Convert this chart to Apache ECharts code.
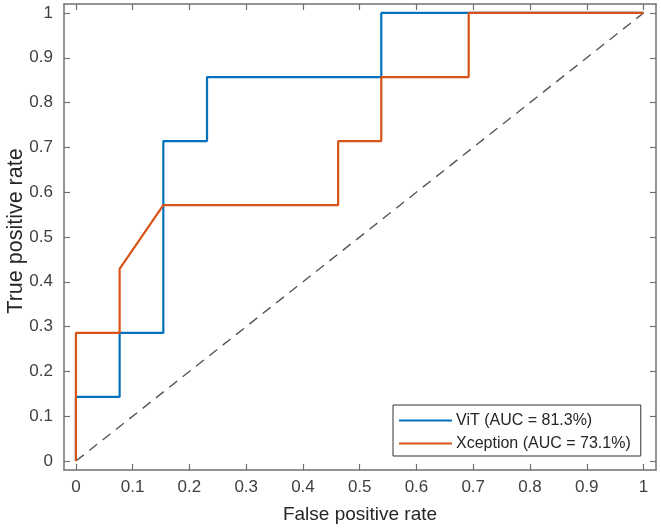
<!DOCTYPE html>
<html>
<head>
<meta charset="utf-8">
<script src="https://cdn.jsdelivr.net/npm/echarts@6/dist/echarts.min.js"></script>
<style>
html,body{margin:0;padding:0;background:#fff;}
#chart{width:661px;height:531px;}
</style>
</head>
<body>
<div id="chart"></div>
<script>
// Data
const tickValues = [0, 0.1, 0.2, 0.3, 0.4, 0.5, 0.6, 0.7, 0.8, 0.9, 1];
const vitFPR = [0, 0, 0.077, 0.077, 0.154, 0.154, 0.231, 0.231, 0.538, 0.538, 1];
const vitTPR = [0, 0.143, 0.143, 0.286, 0.286, 0.714, 0.714, 0.857, 0.857, 1, 1];
const xcepFPR = [0, 0, 0.077, 0.077, 0.154, 0.462, 0.462, 0.538, 0.538, 0.692, 0.692, 1];
const xcepTPR = [0, 0.286, 0.286, 0.429, 0.571, 0.571, 0.714, 0.714, 0.857, 0.857, 1, 1];
const diagFPR = [0, 1];
const diagTPR = [0, 1];
const seriesNames = ['ViT (AUC = 81.3%)', 'Xception (AUC = 73.1%)'];

const zip = (a, b) => a.map((v, i) => [v, b[i]]);
const axisColor = '#707070';
const textColor = '#262626';
const font = 'Liberation Sans, Arial, sans-serif';

const chart = echarts.init(document.getElementById('chart'), null, {renderer: 'canvas'});

function mkX(pos, showLabels) {
  return {
    type: 'value', position: pos, min: -0.021, max: 1.022,
    name: showLabels ? 'False positive rate' : '',
    nameLocation: 'middle', nameGap: 35, nameMoveOverlap: false,
    nameTextStyle: {color: textColor, fontSize: 19, fontFamily: font},
    axisLine: {show: true, onZero: false, lineStyle: {color: axisColor, width: 1.5}},
    axisTick: {show: true, inside: true, length: 6, customValues: tickValues, lineStyle: {color: axisColor, width: 1.2}},
    axisLabel: {show: showLabels, customValues: tickValues, color: '#404040', fontSize: 17, fontFamily: font, margin: 9},
    splitLine: {show: false}
  };
}
function mkY(pos, showLabels) {
  return {
    type: 'value', position: pos, min: -0.02, max: 1.02,
    name: showLabels ? 'True positive rate' : '',
    nameLocation: 'middle', nameGap: 37, nameMoveOverlap: false,
    nameTextStyle: {color: textColor, fontSize: 21.5, fontFamily: font, padding: [0, 0, 0, 12]},
    axisLine: {show: true, onZero: false, lineStyle: {color: axisColor, width: 1.5}},
    axisTick: {show: true, inside: true, length: 6, customValues: tickValues, lineStyle: {color: axisColor, width: 1.2}},
    axisLabel: {show: showLabels, customValues: tickValues, color: '#404040', fontSize: 17, fontFamily: font, margin: 11},
    splitLine: {show: false}
  };
}

chart.setOption({
  animation: false,
  backgroundColor: '#fff',
  grid: {left: 64, top: 4, right: 5, bottom: 61, containLabel: false, outerBoundsMode: 'none'},
  xAxis: [mkX('bottom', true), mkX('top', false)],
  yAxis: [mkY('left', true), mkY('right', false)],
  legend: {
    data: seriesNames,
    orient: 'vertical',
    left: 393, top: 405,
    borderColor: '#333', borderWidth: 1,
    padding: [7, 10, 4, 6],
    itemGap: 6,
    icon: 'rect',
    itemWidth: 53, itemHeight: 2,
    backgroundColor: '#fff',
    textStyle: {color: textColor, fontSize: 16, fontFamily: font, padding: [0, 0, 0, -1], lineHeight: 17}
  },
  series: [
    {
      name: 'diag', type: 'line', data: zip(diagFPR, diagTPR), symbol: 'none',
      lineStyle: {color: '#555', width: 1.4, type: [10, 7]}, silent: true
    },
    {
      name: seriesNames[0], type: 'line', data: zip(vitFPR, vitTPR), symbol: 'none',
      color: '#0072BD', lineStyle: {color: '#0072BD', width: 2.2}
    },
    {
      name: seriesNames[1], type: 'line', data: zip(xcepFPR, xcepTPR), symbol: 'none',
      color: '#D95319', lineStyle: {color: '#D95319', width: 2.2}
    }
  ]
});
</script>
</body>
</html>
